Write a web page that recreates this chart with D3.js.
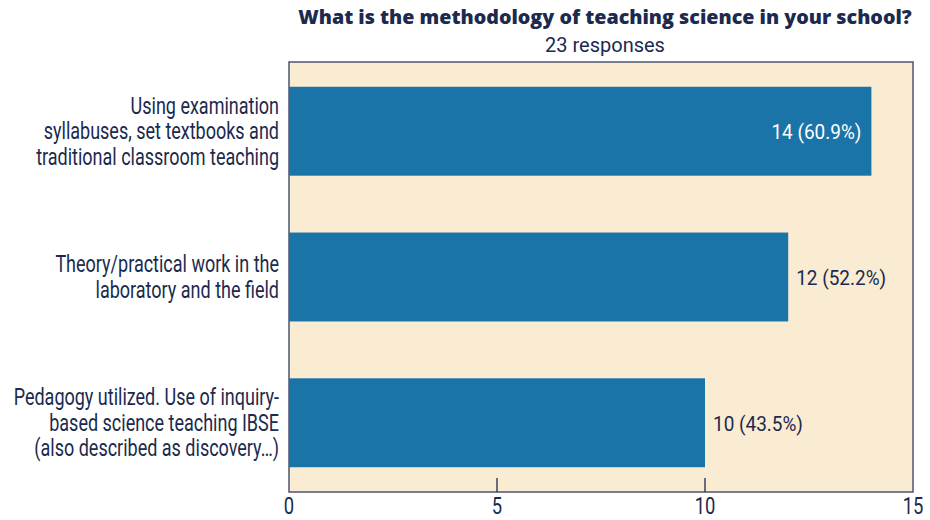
<!DOCTYPE html>
<html><head><meta charset="utf-8">
<script src="https://cdn.jsdelivr.net/npm/d3@7"></script>
<style>body{margin:0;background:#fff}svg{display:block}</style>
</head><body>
<svg id="c" width="930" height="520"></svg>
<script>
const categories = [
  ["Using examination","syllabuses, set textbooks and","traditional classroom teaching"],
  ["Theory/practical work in the","laboratory and the field"],
  ["Pedagogy utilized. Use of inquiry-","based science teaching IBSE","(also described as discovery…)"]
];
const values = [14, 12, 10];
const valueLabels = ["14 (60.9%)", "12 (52.2%)", "10 (43.5%)"];
const xTicks = [0, 5, 10, 15];
const title = "What is the methodology of teaching science in your school?";
const subtitle = "23 responses";

const svg = d3.select("#c");
const navy = "#1b2a4e";
const font = "Roboto,sans-serif";
const m = {l:289, r:913, t:62, b:492};
const x = d3.scaleLinear().domain([0,15]).range([m.l, m.r]);
const y = d3.scaleBand().domain(d3.range(values.length)).range([m.t, m.b]).paddingInner(0.39).paddingOuter(0.17);

function measure(str, size, weight){
  const t = svg.append("text").attr("font-family",font).attr("font-size",size).attr("font-weight",weight||400).text(str);
  const w = t.node().getComputedTextLength(); t.remove(); return w;
}
const catSize = 23.5, catSx = 243 / measure("traditional classroom teaching", catSize);
const valSize = 21, valSx = 90 / measure("12 (52.2%)", valSize);
const tickSize = 24;

function condText(parent, px, py, anchor, sx, size, fill, str){
  return parent.append("g").attr("transform",`translate(${px},${py}) scale(${sx},1)`)
    .append("text").attr("text-anchor",anchor).attr("font-family",font).attr("font-size",size)
    .attr("fill",fill).text(str);
}

svg.append("text").attr("x",605).attr("y",24).attr("text-anchor","middle")
  .attr("font-family","'Open Sans',sans-serif").attr("font-weight",800).attr("font-size",19.7)
  .attr("fill",navy).text(title);
svg.append("text").attr("x",605).attr("y",52).attr("text-anchor","middle")
  .attr("font-family",font).attr("font-size",20)
  .attr("fill",navy).text(subtitle);

svg.append("rect").attr("x",m.l).attr("y",m.t).attr("width",m.r-m.l).attr("height",m.b-m.t)
  .attr("fill","#faebd3").attr("stroke","#4e5670").attr("stroke-width",1.5);

svg.selectAll("rect.bar").data(values).join("rect").attr("class","bar")
  .attr("x",x(0)).attr("y",(d,i)=>y(i)).attr("width",d=>x(d)-x(0)).attr("height",y.bandwidth())
  .attr("fill","#1b74a8");

values.forEach((d,i)=>{
  const inside = i===0;
  condText(svg, inside ? x(d)-10 : x(d)+8, y(i)+y.bandwidth()/2+8,
    inside ? "end" : "start", valSx, valSize, inside ? "#fff" : navy, valueLabels[i]);
});

categories.forEach((lines,i)=>{
  const cy = y(i)+y.bandwidth()/2;
  const lh = 25.5;
  const y0 = cy - (lines.length-1)*lh/2 + 8;
  lines.forEach((s,k)=> condText(svg, 279, y0+k*lh, "end", catSx, catSize, navy, s));
});

xTicks.forEach(t=> condText(svg, x(t), 514, "middle", catSx, tickSize, navy, String(t)));
svg.selectAll("line.tk").data(xTicks.filter(t=>t>0&&t<15)).join("line").attr("class","tk")
  .attr("x1",d=>x(d)).attr("x2",d=>x(d)).attr("y1",m.b).attr("y2",m.b-14)
  .attr("stroke",navy).attr("stroke-width",1.3);
</script>
</body></html>
